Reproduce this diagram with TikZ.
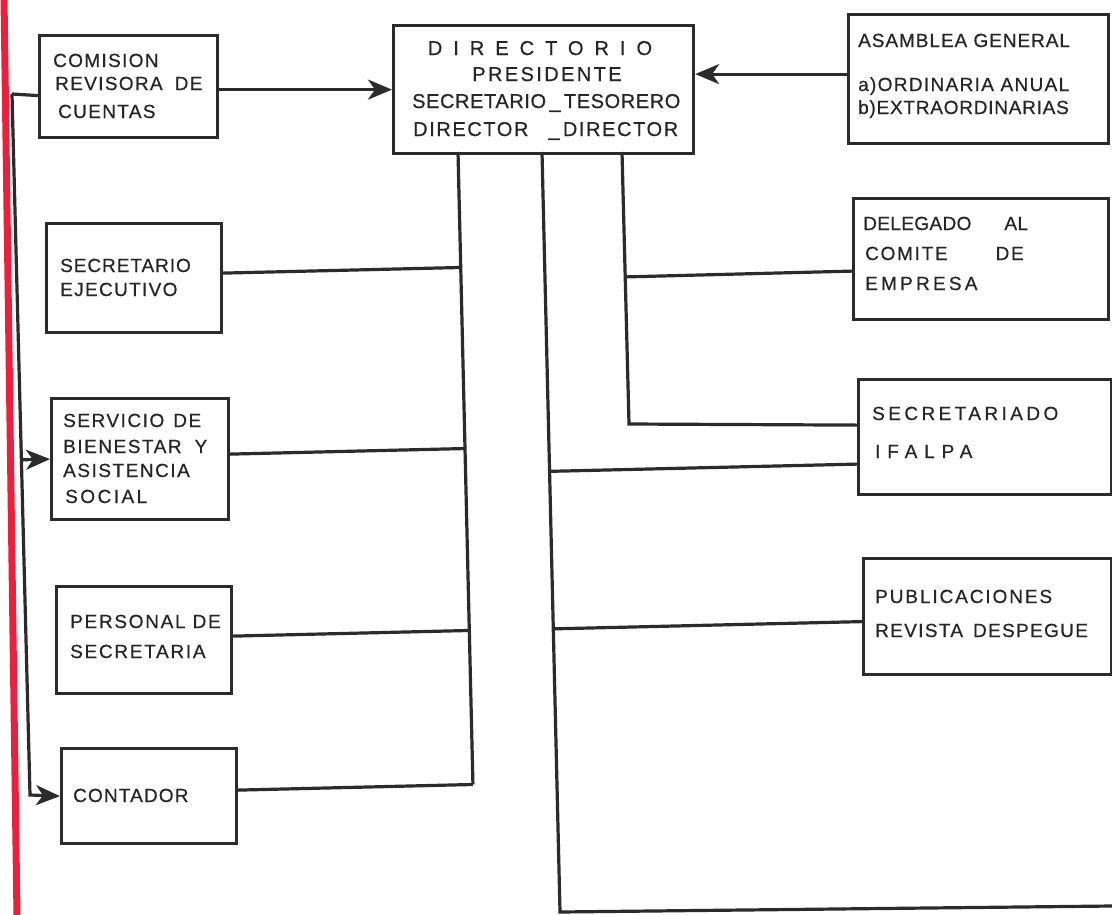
\documentclass[tikz,border=0pt]{standalone}
\usepackage{fontspec}
\setmainfont{Liberation Sans}
\newfontfamily\lett[FakeBold=0.6]{Liberation Sans}
\usetikzlibrary{arrows.meta,calc}
\definecolor{ink}{HTML}{2B2B2B}
\definecolor{txtc}{HTML}{262626}
\definecolor{redline}{HTML}{EC1F3C}
\newcommand{\LSp}[1]{\addfontfeature{LetterSpace=#1}}
\begin{document}
\begin{tikzpicture}[x=1pt,y=-1pt,
  box/.style={draw=ink, line width=3.2pt, fill=white, inner sep=0pt, anchor=north west},
  lbl/.style={anchor=base west, inner sep=0pt, text=txtc, font=\fontsize{19}{22}\lett\LSp{#1}},
  lbl/.default=7,
  clbl/.style={anchor=base, inner sep=0pt, text=txtc, font=\fontsize{20}{22}\lett\LSp{#1}},
  wire/.style={draw=ink, line width=3.2pt, line join=miter},
  arr/.style={wire, -{Stealth[length=24pt,width=20pt,inset=7pt]}}]
\useasboundingbox (0,0) rectangle (1112,914);
\fill[white] (0,0) rectangle (1112,914);
\draw[redline, line width=7pt] (4,-2) -- (17,916);

% boxes
\node[box, minimum width=178pt, minimum height=102pt] (com) at (38,34) {};
\node[box, minimum width=175pt, minimum height=109pt] (sej) at (45,222) {};
\node[box, minimum width=177pt, minimum height=121pt] (ser) at (50,397) {};
\node[box, minimum width=175pt, minimum height=107pt] (per) at (55,585) {};
\node[box, minimum width=175pt, minimum height=95pt] (con) at (60,747) {};
\node[box, minimum width=300pt, minimum height=128pt] (dir) at (392,24) {};
\node[box, minimum width=260pt, minimum height=129pt] (asm) at (847,13) {};
\node[box, minimum width=255pt, minimum height=121pt] (del) at (852,197) {};
\node[box, minimum width=253pt, minimum height=115pt] (sec) at (857,378) {};
\node[box, minimum width=248pt, minimum height=116pt] (pub) at (862,557) {};

% texts
\node[lbl=7] (com1) at (53,67) {COMISION};
\node[lbl=7] (com2) at (55,90) {REVISORA\hspace{12pt}DE};
\node[lbl=7] (com3) at (58,118) {CUENTAS};
\node[lbl=5] (sej1) at (60,272) {SECRETARIO};
\node[lbl=7] (sej2) at (60,296) {EJECUTIVO};
\node[lbl=8] (ser1) at (63,427) {SERVICIO\hspace{9pt}DE};
\node[lbl=8] (ser2) at (63,453) {BIENESTAR\hspace{13pt}Y};
\node[lbl=8] (ser3) at (63,477) {ASISTENCIA};
\node[lbl=13] (ser4) at (65,503) {SOCIAL};
\node[lbl=9] (per1) at (70,628) {PERSONAL DE};
\node[lbl=9] (per2) at (70,658) {SECRETARIA};
\node[lbl=6] (con1) at (73,802) {CONTADOR};
\node[clbl=55] (dir1) at (540,55) {DIRECTORIO};
\node[clbl=12] (dir2) at (547,81) {PRESIDENTE};
\node[lbl=3, font=\fontsize{20}{22}\lett\LSp{3}] (dir3) at (412,108) {SECRETARIO\,\_\,TESORERO};
\node[lbl=8, font=\fontsize{20}{22}\lett\LSp{8}] (dir4) at (413,136) {DIRECTOR\hspace{20pt}\_\,DIRECTOR};
\node[lbl=5] (asm1) at (858,47) {ASAMBLEA GENERAL};
\node[lbl=7] (asm2) at (858,91) {a)ORDINARIA ANUAL};
\node[lbl=4] (asm3) at (858,114) {b)EXTRAORDINARIAS};
\node[lbl=2] (del1) at (863,230) {DELEGADO\hspace{33pt}AL};
\node[lbl=9] (del2) at (865,260) {COMITE\hspace{48pt}DE};
\node[lbl=17] (del3) at (865,290) {EMPRESA};
\node[lbl=18] (sec1) at (872,420) {SECRETARIADO};
\node[lbl=36] (sec2) at (875,458) {IFALPA};
\node[lbl=10] (pub1) at (875,603) {PUBLICACIONES};
\node[lbl=7] (pub2) at (875,637) {REVISTA\hspace{10pt}DESPEGUE};

% bus guide points (the scanned chart is slightly skewed)
\coordinate (lt) at (12,94);
\coordinate (lb) at (30,795);
\coordinate (b1t) at (458,152);
\coordinate (b1b) at (473,787);
\coordinate (b2t) at (542,152);
\coordinate (b2b) at (560,912);
\coordinate (b3t) at (622,152);
\coordinate (b3c) at (629,424);
\coordinate (edge) at (1112,906);

% arrows into DIRECTORIO
\draw[arr] ([yshift=-3pt]com.east) -- ([yshift=-3pt]com.east -| dir.west);
\draw[arr] ([yshift=5pt]asm.west) -- ([yshift=5pt]asm.west -| dir.east);

% feedback line on the left
\draw[wire] ([yshift=-9pt]com.west) -- (lt);
\draw[arr] (lt) -- (lb) -- (con.west);
\draw[arr] ($(lt)!(ser.west)!(lb)$) -- (ser.west);

% left bus from DIRECTORIO
\draw[wire] (b1t) -- ($(b1t)!([yshift=6pt]con.east)!(b1b)$);
\draw[wire] ([yshift=5pt]sej.east) -- ($(b1t)!([yshift=5pt]sej.east)!(b1b)$);
\draw[wire] ([yshift=5pt]ser.east) -- ($(b1t)!([yshift=5pt]ser.east)!(b1b)$);
\draw[wire] ([yshift=4pt]per.east) -- ($(b1t)!([yshift=4pt]per.east)!(b1b)$);
\draw[wire] ([yshift=6pt]con.east) -- ($(b1t)!([yshift=6pt]con.east)!(b1b)$);

% middle bus
\draw[wire] (b2t) -- (b2b) -- (edge);
\draw[wire] ($(b2t)!([yshift=-27pt]sec.west)!(b2b)$) -- ([yshift=-27pt]sec.west);
\draw[wire] ($(b2t)!([yshift=-5pt]pub.west)!(b2b)$) -- ([yshift=-5pt]pub.west);

% right bus
\draw[wire] (b3t) -- (b3c) -- ([yshift=12pt]sec.west);
\draw[wire] ($(b3t)!([yshift=-12pt]del.west)!(b3c)$) -- ([yshift=-12pt]del.west);
\end{tikzpicture}
\end{document}
